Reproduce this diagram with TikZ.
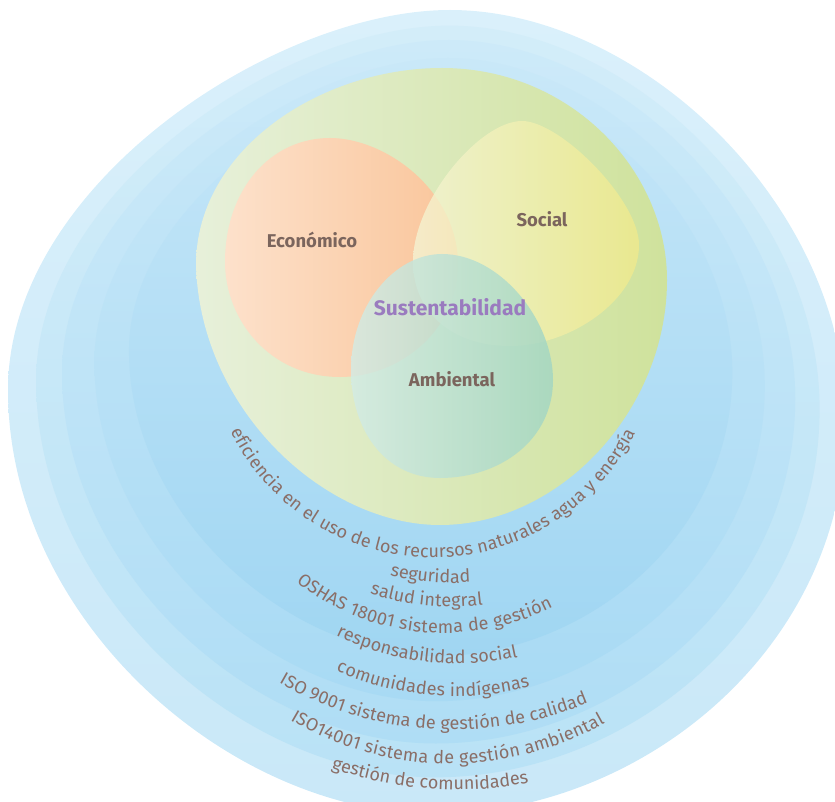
\documentclass[tikz,border=0pt]{standalone}
\usepackage{fontspec}
\setmainfont{Fira Sans}
\usetikzlibrary{decorations.text}
\definecolor{bA1}{HTML}{DAF0FB}\definecolor{bA2}{HTML}{C9E8F8}
\definecolor{bB1}{HTML}{D3EDF9}\definecolor{bB2}{HTML}{B9E2F6}
\definecolor{bC1}{HTML}{CDEAF9}\definecolor{bC2}{HTML}{AFDDF5}
\definecolor{bD1}{HTML}{C9E8F8}\definecolor{bD2}{HTML}{A8DAF4}
\definecolor{bE1}{HTML}{C5E6F8}\definecolor{bE2}{HTML}{A0D6F2}
\definecolor{grL}{HTML}{E7F0DA}\definecolor{grR}{HTML}{CFE29C}
\definecolor{ecL}{HTML}{FDE1CB}\definecolor{ecR}{HTML}{F9C59A}
\definecolor{soL}{HTML}{F4F4D4}\definecolor{soR}{HTML}{F1EA8C}
\definecolor{amL}{HTML}{D3EBE5}\definecolor{amR}{HTML}{A2D6C3}
\definecolor{labc}{HTML}{7B655D}
\definecolor{susc}{HTML}{9A7BBF}
\definecolor{txtc}{HTML}{8A6E67}
\newcommand\tfmt{\color{txtc}\fontsize{18}{21}\selectfont}
\tikzset{
 outerblob/.style={insert path={(450,10) .. controls (640,10) and (846,205) .. (846,420)
   .. controls (846,650) and (640,814) .. (435,814)
   .. controls (230,814) and (8,620) .. (8,390)
   .. controls (8,185) and (275,10) .. (450,10) -- cycle}},
 greenblob/.style={insert path={(442,68) .. controls (570,68) and (667,170) .. (667,280)
   .. controls (667,410) and (560,525) .. (440,525)
   .. controls (325,525) and (200,410) .. (196,265)
   .. controls (196,150) and (320,68) .. (442,68) -- cycle}},
 ecoblob/.style={insert path={(330,138) .. controls (385,138) and (458,190) .. (458,265)
   .. controls (458,330) and (400,377) .. (340,377)
   .. controls (270,377) and (225,320) .. (225,262)
   .. controls (225,190) and (270,138) .. (330,138) -- cycle}},
 socblob/.style={insert path={(522,121) .. controls (560,121) and (639,200) .. (639,245)
   .. controls (639,300) and (570,346) .. (510,346)
   .. controls (450,346) and (413,310) .. (413,262)
   .. controls (413,200) and (480,121) .. (522,121) -- cycle}},
 ambblob/.style={insert path={(442,254) .. controls (500,254) and (553,320) .. (553,380)
   .. controls (553,440) and (500,478) .. (440,478)
   .. controls (385,478) and (351,430) .. (351,370)
   .. controls (351,305) and (395,254) .. (442,254) -- cycle}},
 lbl/.style={font=\fontsize{18.5}{22}\selectfont\bfseries, text=labc, inner sep=0pt},
 curvtxt/.style={decorate, decoration={text along path, text={|\tfmt|#1}, text align={fit to path}}}
}
\begin{document}
\begin{tikzpicture}[x=1pt,y=-1pt]
\useasboundingbox (0,0) rectangle (835,802);
% blue bands
\shade[top color=bA1, bottom color=bA2, outerblob];
\begin{scope}[shift={(440,250)}, scale=0.935, shift={(-440,-250)}]
 \shade[top color=bB1, bottom color=bB2, outerblob];
\end{scope}
\begin{scope}[shift={(440,250)}, scale=0.875, shift={(-440,-250)}]
 \shade[top color=bC1, bottom color=bC2, outerblob];
\end{scope}
\begin{scope}[shift={(440,250)}, scale=0.80, shift={(-440,-250)}]
 \shade[top color=bD1, bottom color=bD2, outerblob];
\end{scope}
\begin{scope}[shift={(440,250)}, scale=0.72, shift={(-440,-250)}]
 \shade[top color=bE1, bottom color=bE2, outerblob];
\end{scope}
% sets
\shade[left color=grL, right color=grR, greenblob];
\shade[left color=ecL, right color=ecR, ecoblob];
\shade[left color=soL, right color=soR, fill opacity=0.78, socblob];
\shade[left color=amL, right color=amR, fill opacity=0.82, ambblob];
% labels
\node[lbl] (eco) at (312,240) {Económico};
\node[lbl] (soc) at (542,219) {Social};
\node[lbl] (amb) at (452,379) {Ambiental};
\node[lbl, font=\fontsize{21}{24}\selectfont\bfseries, text=susc] (sus) at (450,307) {Sustentabilidad};
% curved texts
\path[curvtxt={eficiencia en el uso de los recursos naturales agua y energía}] (433,331.6) ++(153.7:226) arc[start angle=153.7,end angle=26.5,radius=226];
\path[curvtxt={seguridad}] (452,333) ++(104.4:250) arc[start angle=104.4,end angle=85.9,radius=250];
\path[curvtxt={salud integral}] (451.7,337.5) ++(107.7:269.2) arc[start angle=107.7,end angle=83.3,radius=269.2];
\path[curvtxt={OSHAS 18001 sistema de gestión}] (444.1,392.7) ++(128.0:240.4) arc[start angle=128.0,end angle=63.1,radius=240.4];
\path[curvtxt={responsabilidad social}] (457.7,380.7) ++(115.5:282.8) arc[start angle=115.5,end angle=77.7,radius=282.8];
\path[curvtxt={comunidades indígenas}] (456.3,396.7) ++(113.7:299.5) arc[start angle=113.7,end angle=75.75,radius=299.5];
\path[curvtxt={ISO 9001 sistema de gestión de calidad}] (453.8,380.2) ++(120.0:349.6) arc[start angle=120.0,end angle=67.4,radius=349.6];
\path[curvtxt={ISO14001 sistema de gestión ambiental}] (450.1,448.3) ++(120.5:315.4) arc[start angle=120.5,end angle=60.6,radius=315.4];
\path[curvtxt={gestión de comunidades}] (457.2,411.9) ++(109.5:377.8) arc[start angle=109.5,end angle=79.2,radius=377.8];
\end{tikzpicture}
\end{document}
